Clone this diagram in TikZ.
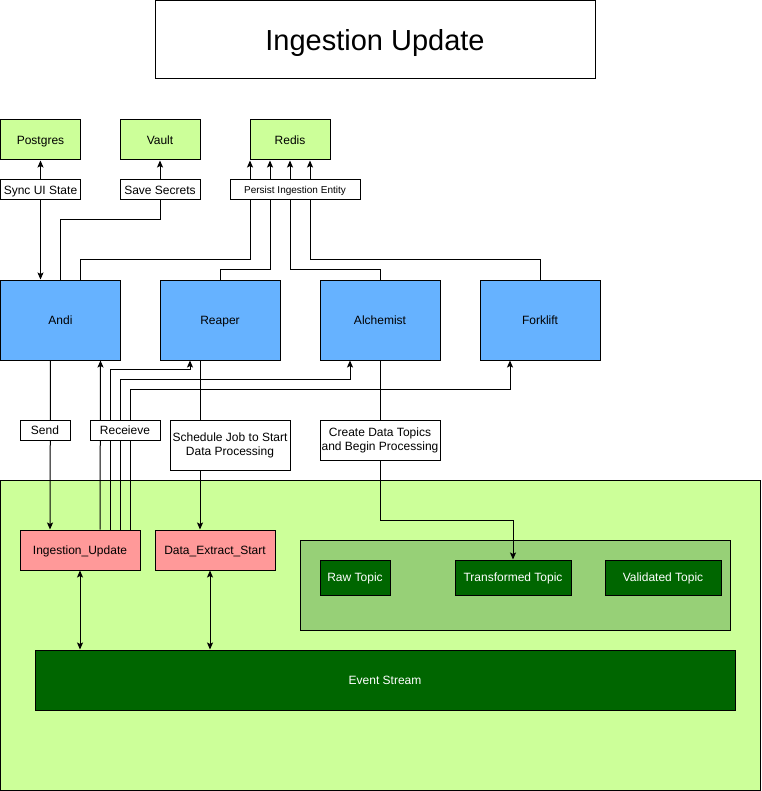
\documentclass[tikz,border=0pt]{standalone}
\usepackage{fontspec}
\setmainfont{Liberation Sans}
\usetikzlibrary{arrows.meta}
\definecolor{lgreen}{HTML}{CCFF99}
\definecolor{blueA}{HTML}{66B2FF}
\definecolor{pinkA}{HTML}{FF9999}
\definecolor{midgreen}{HTML}{97D077}
\definecolor{dgreen}{HTML}{006600}
\begin{document}
\begin{tikzpicture}[x=1pt,y=-1pt, line width=1pt,
  base/.style={draw, line width=1pt, inner sep=1pt, align=center, font=\fontsize{12}{14}\selectfont},
  box/.style={base, text height=8.6pt, text depth=0pt},
  gbox/.style={box, fill=lgreen, minimum width=80pt, minimum height=40pt},
  bbox/.style={box, fill=blueA, minimum width=120pt, minimum height=80pt},
  pbox/.style={box, fill=pinkA, minimum width=120pt, minimum height=40pt},
  tbox/.style={box, fill=dgreen, text=white, minimum height=35pt},
  lbl/.style={box, fill=white, minimum height=20pt},
  mlbl/.style={base, fill=white},
  arr/.style={-{Stealth[length=7pt,width=6pt,inset=1.5pt]}},
  dbl/.style={{Stealth[length=7pt,width=6pt,inset=1.5pt]}-{Stealth[length=7pt,width=6pt,inset=1.5pt]}}]
\useasboundingbox (0,0) rectangle (761,791);

% containers
\node[draw, fill=lgreen, minimum width=759.5pt, minimum height=310.5pt, inner sep=0pt] (bg) at (380.25,635.25) {};
\node[draw, fill=midgreen, minimum width=430pt, minimum height=90pt, inner sep=0pt] (topics) at (515,585) {};

% title
\node[box, minimum width=440pt, minimum height=78pt, font=\fontsize{29}{34}\selectfont, text height=20.8pt] (title) at (375,40) {Ingestion Update};

% stores
\node[gbox] (postgres) at (40.5,140) {Postgres};
\node[gbox] (vault) at (160,140) {Vault};
\node[gbox] (redis) at (290,140) {Redis};

% services
\node[bbox] (andi) at (60.5,320) {Andi};
\node[bbox] (reaper) at (220,320) {Reaper};
\node[bbox] (alch) at (380,320) {Alchemist};
\node[bbox] (fork) at (540,320) {Forklift};

% events
\node[pbox] (iu) at (80,550) {Ingestion\_Update};
\node[pbox] (des) at (215,550) {Data\_Extract\_Start};

% topics
\node[tbox, minimum width=70pt] (raw) at (355,577.5) {Raw Topic};
\node[tbox, minimum width=116pt] (tt) at (513,577.5) {Transformed Topic};
\node[tbox, minimum width=116pt] (vt) at (663,577.5) {Validated Topic};

\node[tbox, minimum width=700pt, minimum height=60pt] (es) at (385,680) {Event Stream};

% connectors top
\draw[dbl] (postgres.south |- andi.north) -- (postgres.south);
\draw[arr] (andi.north) -- ++(0,-60) -| (vault.south);
\draw[arr] ([xshift=20pt]andi.north) -- ++(0,-20) -| ([xshift=-40pt]redis.south);
\draw[arr] (reaper.north) -- ++(0,-10) -| ([xshift=-20pt]redis.south);
\draw[arr] (alch.north) -- ++(0,-10) -| (redis.south);
\draw[arr] (fork.north) -- ++(0,-20) -| ([xshift=20pt]redis.south);

% connectors bottom
\draw[arr] ([xshift=-10pt]andi.south) -- ([xshift=-30pt]iu.north);
\draw[arr] ([xshift=20pt]iu.north) -- ([xshift=40pt]andi.south);
\draw[arr] ([xshift=30pt]iu.north) -- ++(0,-160) -| ([xshift=-30pt]reaper.south);
\draw[arr] ([xshift=40pt]iu.north) -- ++(0,-150) -| ([xshift=-30pt]alch.south);
\draw[arr] ([xshift=50pt]iu.north) -- ++(0,-140) -| ([xshift=-30pt]fork.south);
\draw[arr] ([xshift=-20pt]reaper.south) -- ([xshift=-15pt]des.north);
\draw[arr] (alch.south) -- ++(0,160) -| (tt.north);
\draw[dbl] (iu.south) -- (iu.south |- es.north);
\draw[dbl] ([xshift=-5pt]des.south) coordinate (d1) -- (d1 |- es.north);

% labels
\node[lbl, minimum width=80pt] (sync) at (40.5,190) {Sync UI State};
\node[lbl, minimum width=80pt] (save) at (160,190) {Save Secrets};
\node[lbl, minimum width=130pt, font=\fontsize{10}{12}\selectfont, text height=7.2pt] (persist) at (295,190) {Persist Ingestion Entity};
\node[lbl, minimum width=50pt] (send) at (45,430) {Send};
\node[lbl, minimum width=70pt] (recv) at (125,430) {Receieve};
\node[mlbl, minimum width=120pt, minimum height=50pt] (sched) at (230,445) {Schedule Job to Start\\Data Processing};
\node[mlbl, minimum width=120pt, minimum height=40pt] (create) at (380,440) {Create Data Topics\\and Begin Processing};
\end{tikzpicture}
\end{document}
